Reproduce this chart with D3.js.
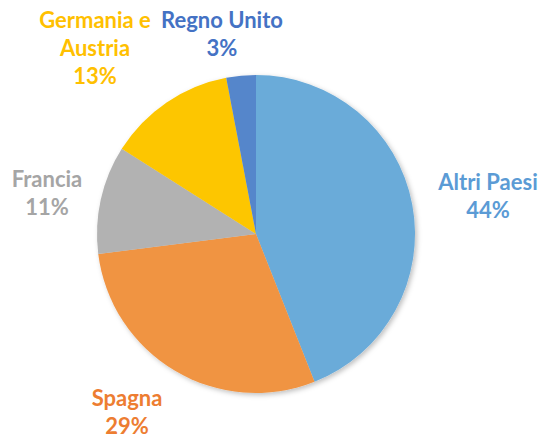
<!DOCTYPE html>
<html>
<head>
<meta charset="utf-8">
<script src="https://cdn.jsdelivr.net/npm/d3@7"></script>
<style>
  body { margin: 0; background: #fff; }
  text { font-family: Lato, 'Open Sans', sans-serif; font-weight: bold; }
</style>
</head>
<body>
<div id="wrapper"></div>
<script>
// Data
const countries = ['Altri Paesi', 'Spagna', 'Francia', 'Germania e Austria', 'Regno Unito'];
const shares = [44, 29, 11, 13, 3];
const sliceColors = ['#6aabd9', '#f09443', '#b2b2b2', '#fdc600', '#5486cb'];
const labelColors = ['#5b9bd5', '#ed7d31', '#a5a5a5', '#ffc000', '#4472c4'];
const labelLines = [
  ['Altri Paesi', '44%'],
  ['Spagna', '29%'],
  ['Francia', '11%'],
  ['Germania e', 'Austria', '13%'],
  ['Regno Unito', '3%'],
];

function drawPie() {
  const dimensions = { width: 543, height: 440, cx: 256, cy: 234, radius: 159 };

  const wrapper = d3
    .select('#wrapper')
    .append('svg')
    .attr('width', dimensions.width)
    .attr('height', dimensions.height);

  // soft shadow like the original
  const defs = wrapper.append('defs');
  const filter = defs.append('filter').attr('id', 'shadow')
    .attr('x', '-10%').attr('y', '-10%').attr('width', '125%').attr('height', '125%');
  filter.append('feDropShadow')
    .attr('dx', 2).attr('dy', 2).attr('stdDeviation', 2.5)
    .attr('flood-color', '#000').attr('flood-opacity', 0.25);

  const pie = d3.pie().sort(null).value((d) => d.value);
  const arc = d3.arc().innerRadius(0).outerRadius(dimensions.radius);
  const data = countries.map((c, i) => ({ name: c, value: shares[i], i }));

  const bounds = wrapper
    .append('g')
    .attr('transform', `translate(${dimensions.cx}, ${dimensions.cy})`);

  bounds
    .append('g')
    .attr('filter', 'url(#shadow)')
    .selectAll('path')
    .data(pie(data))
    .join('path')
    .attr('d', arc)
    .attr('fill', (d) => sliceColors[d.data.i]);

  // Labels, placed outside the pie
  const labelPos = [
    [488, 182],
    [127, 398],
    [47, 179],
    [95, 20],
    [222, 20],
  ];
  const lineHeight = 28;

  const labels = wrapper
    .append('g')
    .selectAll('text')
    .data(data)
    .join('text')
    .attr('text-anchor', 'middle')
    .attr('fill', (d) => labelColors[d.i])
    .style('font-size', '22px')
    .attr('x', (d) => labelPos[d.i][0])
    .attr('y', (d) => labelPos[d.i][1]);

  labels
    .selectAll('tspan')
    .data((d) => labelLines[d.i].map((t) => ({ t, x: labelPos[d.i][0] })))
    .join('tspan')
    .attr('x', (d) => d.x)
    .attr('dy', (d, j) => (j === 0 ? '0.36em' : lineHeight))
    .text((d) => d.t);
}
drawPie();
</script>
</body>
</html>
